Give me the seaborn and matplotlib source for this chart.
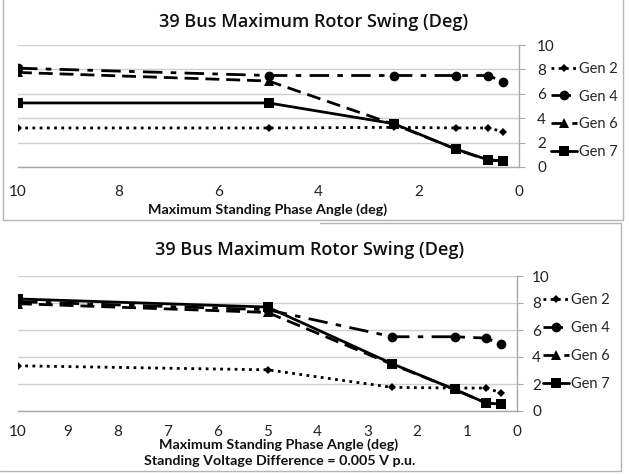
import numpy as np
import matplotlib
matplotlib.use("Agg")
import matplotlib.pyplot as plt
from matplotlib.lines import Line2D
import pandas as pd
import seaborn as sns

# phase angle steps (deg)
angles = [10, 5, 2.5, 1.25, 0.625, 0.3125]
gens = ["Gen 2", "Gen 4", "Gen 6", "Gen 7"]

# top chart
top_gen2 = [3.2, 3.2, 3.25, 3.2, 3.2, 2.9]
top_gen4 = [8.1, 7.5, 7.5, 7.5, 7.5, 7.0]
top_gen6 = [7.75, 7.05, 3.5, 1.45, 0.55, 0.5]
top_gen7 = [5.25, 5.25, 3.55, 1.45, 0.6, 0.5]

# bottom chart (0.005 V p.u.)
bot_gen2 = [3.35, 3.05, 1.75, 1.7, 1.7, 1.35]
bot_gen4 = [8.1, 7.5, 5.5, 5.5, 5.4, 4.95]
bot_gen6 = [7.95, 7.3, 3.45, 1.6, 0.6, 0.5]
bot_gen7 = [8.3, 7.7, 3.5, 1.6, 0.6, 0.5]

W, H = 629, 474
sns.set_style("white")
plt.rcParams['font.family'] = ['Lato', 'DejaVu Sans']

palette = {g: "black" for g in gens}
dashes = {"Gen 2": (1, 1.6), "Gen 4": (7, 3, 2, 3), "Gen 6": (5, 2.5), "Gen 7": ""}
markers = {"Gen 2": "D", "Gen 4": "o", "Gen 6": "^", "Gen 7": "s"}
msize = {"Gen 2": 4.5, "Gen 4": 7, "Gen 6": 7, "Gen 7": 7}


def make_df(series):
    rows = []
    for g, vals in zip(gens, series):
        for a, v in zip(angles, vals):
            rows.append({"angle": a, "swing": v, "gen": g})
    return pd.DataFrame(rows)


def rect(x0, y0, x1, y1):
    return [x0 / W, 1 - y1 / H, (x1 - x0) / W, (y1 - y0) / H]


def draw(ax, df, xticks, leg_x, leg_y, xpad, ypad):
    sns.lineplot(data=df, x="angle", y="swing", hue="gen", style="gen",
                 palette=palette, dashes=dashes, markers=markers,
                 markersize=7, linewidth=2, markeredgewidth=0, ax=ax,
                 legend=False, sort=False)
    for line, g in zip(ax.lines, gens):
        line.set_markersize(msize[g])
    ax.set_xlim(10, 0)
    ax.set_ylim(0, 10)
    ax.set_xticks(xticks)
    ax.set_xticklabels([str(t) for t in xticks])
    ax.set_yticks(range(0, 11, 2))
    ax.yaxis.tick_right()
    ax.grid(axis="y", color="#cfcfcf", linewidth=1)
    ax.set_axisbelow(True)
    for s in ["top", "left"]:
        ax.spines[s].set_visible(False)
    for s in ["bottom", "right"]:
        ax.spines[s].set_color("#a8a8a8")
        ax.spines[s].set_linewidth(1)
    ax.tick_params(axis="both", which="both", length=4, color="#a8a8a8",
                   labelsize=11, labelcolor="#222222", direction="out")
    ax.tick_params(axis="x", pad=xpad)
    ax.tick_params(axis="y", pad=ypad)
    ax.set_xlabel("")
    ax.set_ylabel("")
    handles = [Line2D([], [], color="black", linewidth=2, dashes=dashes[g] if dashes[g] else (None, None),
                      marker=markers[g], markersize=msize[g], markeredgewidth=0) for g in gens]
    handles[3].set_linestyle("-")
    ax.legend(handles, gens, loc="center left", bbox_to_anchor=(leg_x / W, 1 - leg_y / H),
              bbox_transform=fig.transFigure, frameon=False, fontsize=10.5,
              labelspacing=0.95, handlelength=1.75, handletextpad=0.15,
              borderaxespad=0, borderpad=0)


fig = plt.figure(figsize=(W / 100, H / 100), dpi=100)
title_font = dict(fontsize=13, color="#111111", fontweight="semibold",
                  family=["Open Sans", "DejaVu Sans"])

ax1 = fig.add_axes(rect(18, 45, 519, 167))
draw(ax1, make_df([top_gen2, top_gen4, top_gen6, top_gen7]), list(range(0, 11, 2)), 551, 110.5, 9, 9)
fig.text(314 / W, 1 - 22 / H, "39 Bus Maximum Rotor Swing (Deg)", ha="center", va="center", **title_font)
fig.text(268 / W, 1 - 210 / H, "Maximum Standing Phase Angle (deg)", ha="center", va="center",
         fontsize=10.3, fontweight="bold", color="#111111")

ax2 = fig.add_axes(rect(18, 276, 517, 411))
draw(ax2, make_df([bot_gen2, bot_gen4, bot_gen6, bot_gen7]), list(range(0, 11)), 543, 342, 6, 7)
fig.text(310 / W, 1 - 250 / H, "39 Bus Maximum Rotor Swing (Deg)", ha="center", va="center", **title_font)
fig.text(279 / W, 1 - 445 / H, "Maximum Standing Phase Angle (deg)", ha="center", va="center",
         fontsize=10.3, fontweight="bold", color="#111111")
fig.text(280 / W, 1 - 461 / H, "Standing Voltage Difference = 0.005 V p.u.", ha="center", va="center",
         fontsize=10.3, fontweight="bold", color="#111111")

# chart borders
border = dict(color="#b5b5b5", linewidth=1, transform=fig.transFigure)
fig.add_artist(Line2D([3 / W, 3 / W], [1, 1 - 220 / H], **border))
fig.add_artist(Line2D([3 / W, 623 / W], [1 - 220 / H, 1 - 220 / H], **border))
fig.add_artist(Line2D([623 / W, 623 / W], [1, 1 - 220 / H], **border))
fig.add_artist(Line2D([320 / W, 621 / W], [1 - 223 / H, 1 - 223 / H], **border))
fig.add_artist(Line2D([621 / W, 621 / W], [1 - 223 / H, 1 - 471 / H], **border))
fig.add_artist(Line2D([0, 621 / W], [1 - 471 / H, 1 - 471 / H], **border))

fig.savefig("out.png", dpi=100)
